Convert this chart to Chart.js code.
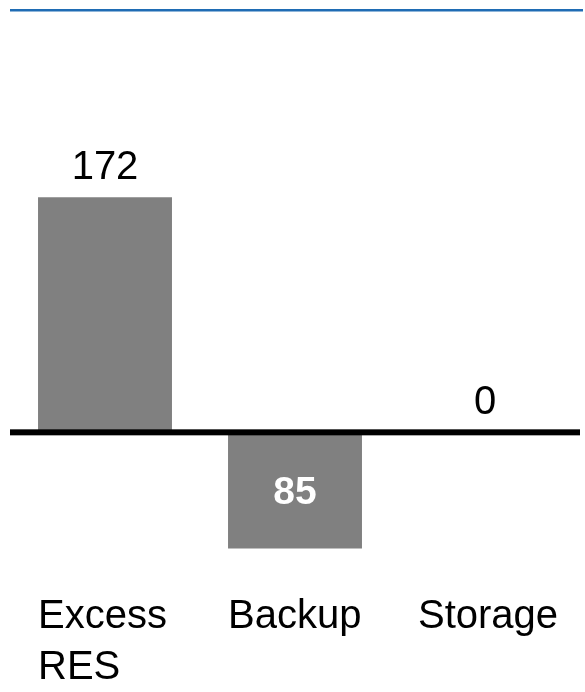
<!DOCTYPE html>
<html>
<head>
<meta charset="utf-8">
<script src="https://cdn.jsdelivr.net/npm/chart.js@4/dist/chart.umd.min.js"></script>
<style>
  html, body { margin: 0; padding: 0; background: #ffffff; }
  #wrap { width: 585px; height: 692px; position: relative; }
</style>
</head>
<body>
<div id="wrap"><canvas id="c"></canvas></div>
<script>
// Energy balance: surplus renewables, backup generation and storage
const categories = [['Excess', 'RES'], 'Backup', 'Storage'];
const values = [172, -85, 0];
// Text shown on each bar (magnitude of the value)
const valueLabels = values.map(v => String(Math.abs(v)));
// Bars drawn with the number inside rather than above
const insideLabel = [false, true, false];

const FONT = '"Liberation Sans", Arial, Helvetica, sans-serif';
const BAR_FRACTION = 0.705;

const decorations = {
  id: 'decorations',
  beforeDatasetsDraw(chart) {
    const { ctx, chartArea } = chart;
    ctx.save();
    // thin blue rule along the top
    ctx.fillStyle = '#1f6cb4';
    ctx.fillRect(chartArea.left, 9, chartArea.right - chartArea.left + 3, 2.5);
    ctx.restore();
  },
  afterDatasetsDraw(chart) {
    const { ctx, chartArea, scales } = chart;
    const y0 = scales.y.getPixelForValue(0);
    ctx.save();
    // zero baseline
    ctx.fillStyle = '#000000';
    ctx.fillRect(chartArea.left, y0 - 3, chartArea.right - chartArea.left, 6);

    // value labels
    const meta = chart.getDatasetMeta(0);
    meta.data.forEach((bar, i) => {
      const text = valueLabels[i];
      ctx.textAlign = 'center';
      ctx.textBaseline = 'alphabetic';
      if (insideLabel[i]) {
        ctx.font = 'bold 39px ' + FONT;
        ctx.fillStyle = '#ffffff';
        const mid = (bar.y + bar.base) / 2;
        ctx.fillText(text, bar.x, mid + 13.5);
      } else {
        ctx.font = '40px ' + FONT;
        ctx.fillStyle = '#000000';
        const top = Math.min(bar.y, bar.base);
        ctx.fillText(text, bar.x, top - 18);
      }
    });
    ctx.restore();
  }
};

new Chart(document.getElementById('c'), {
  type: 'bar',
  data: {
    labels: categories,
    datasets: [{
      data: values,
      backgroundColor: '#808080',
      borderWidth: 0,
      barPercentage: BAR_FRACTION,
      categoryPercentage: 1.0
    }]
  },
  options: {
    responsive: true,
    maintainAspectRatio: false,
    animation: false,
    layout: { padding: { left: 10, right: 5, top: 159, bottom: 0 } },
    plugins: {
      legend: { display: false },
      tooltip: { enabled: false },
      title: { display: false }
    },
    scales: {
      x: {
        offset: true,
        grid: { display: false, drawTicks: false },
        border: { display: false },
        ticks: {
          color: '#000000',
          font: { family: FONT, size: 40, lineHeight: 1.275 },
          align: 'start',
          labelOffset: -67,
          padding: 22,
          autoSkip: false,
          maxRotation: 0,
          minRotation: 0
        },
        afterFit(scale) {
          scale.height = 123;
          scale.paddingLeft = 0;
          scale.paddingRight = 0;
        }
      },
      y: {
        display: false,
        min: -100,
        max: 200
      }
    }
  },
  plugins: [decorations]
});
</script>
</body>
</html>
